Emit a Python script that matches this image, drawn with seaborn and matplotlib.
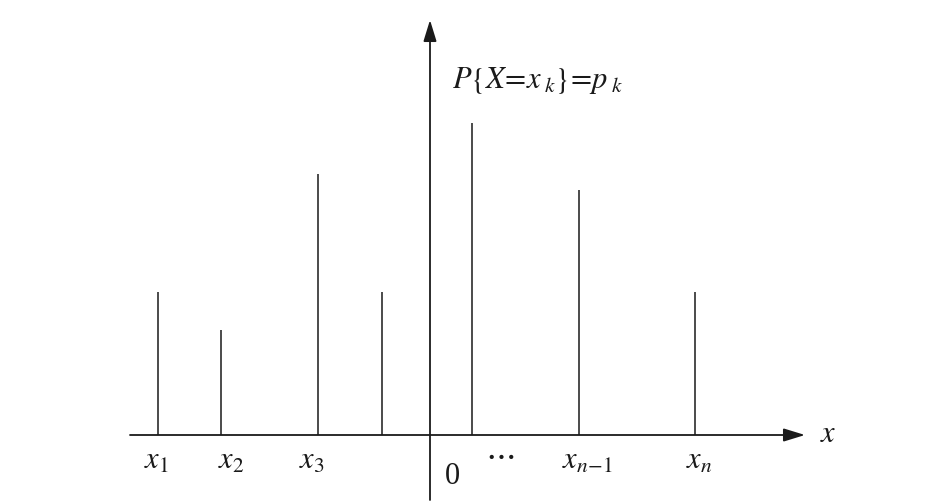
import matplotlib
matplotlib.use("Agg")

import matplotlib.pyplot as plt
import seaborn as sns

# ── Data (origin of the axes at 0, heights in arbitrary probability units) ──
stem_x = [-272, -209, -112, -48, 42, 149, 265]
stem_p = [143, 105, 261, 143, 312, 245, 143]
tick_labels = [r"$x_1$", r"$x_2$", r"$x_3$", "", "", r"$x_{n\!-\!1}$", r"$x_n$"]
label_x = [-274, -199, -118, 0, 0, 158, 269]

INK = "#1a1a1a"

sns.set_style("white")
plt.rcParams["font.family"] = ["Liberation Serif", "DejaVu Serif"]
plt.rcParams["mathtext.fontset"] = "stix"

fig = plt.figure(figsize=(9.28, 5.01), dpi=100)
ax = fig.add_axes([0, 0, 1, 1])
ax.set_xlim(-430, 498)
ax.set_ylim(-66, 435)
ax.axis("off")

# stems
ax.vlines(stem_x, 0, stem_p, color=INK, lw=1.1)

# axes with arrows
arrow = dict(arrowstyle="-|>,head_length=0.65,head_width=0.2",
             mutation_scale=20, lw=1.3, color=INK, shrinkA=0, shrinkB=0)
ax.annotate("", xy=(375, 0), xytext=(-300, 0), arrowprops=arrow)
ax.annotate("", xy=(0, 415), xytext=(0, -65), arrowprops=arrow)

# labels
for lx, lab in zip(label_x, tick_labels):
    if lab:
        ax.text(lx, -12, lab, ha="center", va="top", fontsize=22, color=INK)

ax.text(398, 1, r"$x$", ha="center", va="center", fontsize=22, color=INK)
ax.text(22, -41, "0", ha="center", va="center", fontsize=22, color=INK)
ax.text(70, -20, r"$\cdots$", ha="center", va="center", fontsize=24, color=INK)
ax.text(22, 355, r"$P\{X\!=\!x_{\;k}\}\!=\!p_{\;k}$", ha="left", va="center",
        fontsize=22, color=INK)

fig.savefig("out.png", dpi=100)
plt.close()
